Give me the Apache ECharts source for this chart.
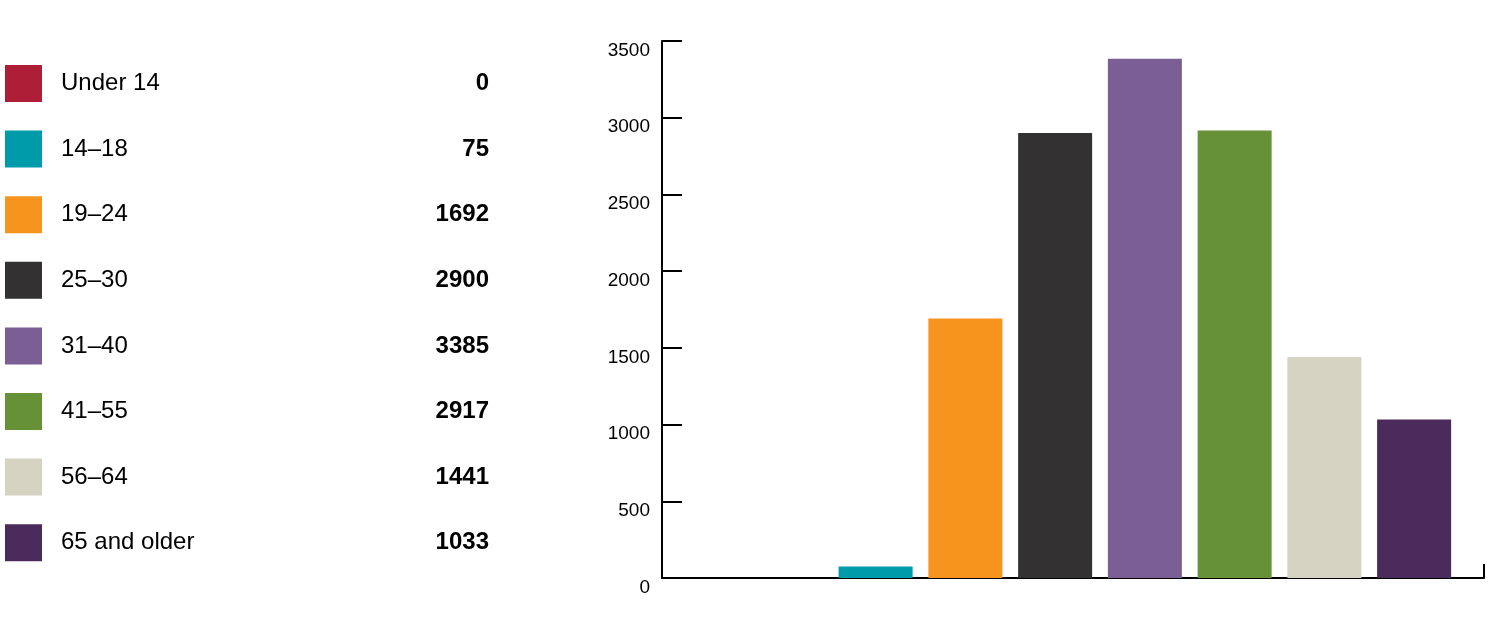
<!DOCTYPE html>
<html>
<head>
<meta charset="utf-8">
<script src="https://cdn.jsdelivr.net/npm/echarts@6/dist/echarts.min.js"></script>
<style>html,body{margin:0;padding:0;background:#fff}#c{width:1500px;height:625px}</style>
</head>
<body>
<div id="c"></div>
<script>
const categories = ['Under 14', '14\u201318', '19\u201324', '25\u201330', '31\u201340', '41\u201355', '56\u201364', '65 and older'];
const values = [0, 75, 1692, 2900, 3385, 2917, 1441, 1033];
const colors = ['#AE1E36', '#009BAA', '#F7941E', '#333132', '#7A5E94', '#679137', '#D5D3C1', '#4B2B5B'];
const yTicks = [0, 500, 1000, 1500, 2000, 2500, 3000, 3500];

const FONT = 'Liberation Sans';
const chart = echarts.init(document.getElementById('c'));

const series = categories.map((name, i) => ({
  name: name,
  type: 'bar',
  xAxisIndex: 1,
  yAxisIndex: 1,
  stack: 'all',
  barWidth: 74,
  itemStyle: { color: colors[i] },
  data: values.map((v, j) => (j === i ? v : '-')),
  silent: true
}));

chart.setOption({
  animation: false,
  grid: [
    { left: 662, right: 16, top: 41, bottom: 47 },
    { left: 741, right: 41, top: 41, bottom: 47 }
  ],
  xAxis: [
    {
      gridIndex: 0, type: 'value', min: 0, max: 1, interval: 1,
      axisLine: { show: true, lineStyle: { color: '#000', width: 2 } },
      axisTick: { show: true, inside: true, length: 14, lineStyle: { color: '#000', width: 2 } },
      axisLabel: { show: false }, splitLine: { show: false }
    },
    {
      gridIndex: 1, type: 'category', data: categories, show: false
    }
  ],
  yAxis: [
    {
      gridIndex: 0, type: 'value', min: yTicks[0], max: yTicks[yTicks.length - 1], interval: 500,
      axisLine: { show: true, lineStyle: { color: '#000', width: 2 } },
      axisTick: { show: true, inside: true, length: 20, lineStyle: { color: '#000', width: 2 } },
      axisLabel: {
        color: '#000', fontFamily: FONT, fontSize: 19, margin: 12, verticalAlign: 'top',
        formatter: function (v) { return String(v); }
      },
      splitLine: { show: false }
    },
    {
      gridIndex: 1, type: 'value', min: 0, max: 3500, show: false, splitLine: { show: false }
    }
  ],
  legend: {
    orient: 'vertical', left: 5, top: 65, padding: 0,
    itemWidth: 37, itemHeight: 37, itemGap: 28.6,
    icon: 'rect', selectedMode: false,
    data: categories,
    formatter: function (name) {
      const i = categories.indexOf(name);
      return '{n|' + name + '}{v|' + values[i] + '}';
    },
    textStyle: {
      rich: {
        n: { fontFamily: FONT, fontSize: 24, color: '#000', width: 328, padding: [0, 0, 0, 14] },
        v: { fontFamily: FONT, fontSize: 24, fontWeight: 'bold', color: '#000', width: 100, align: 'right' }
      }
    }
  },
  series: series
});
</script>
</body>
</html>
